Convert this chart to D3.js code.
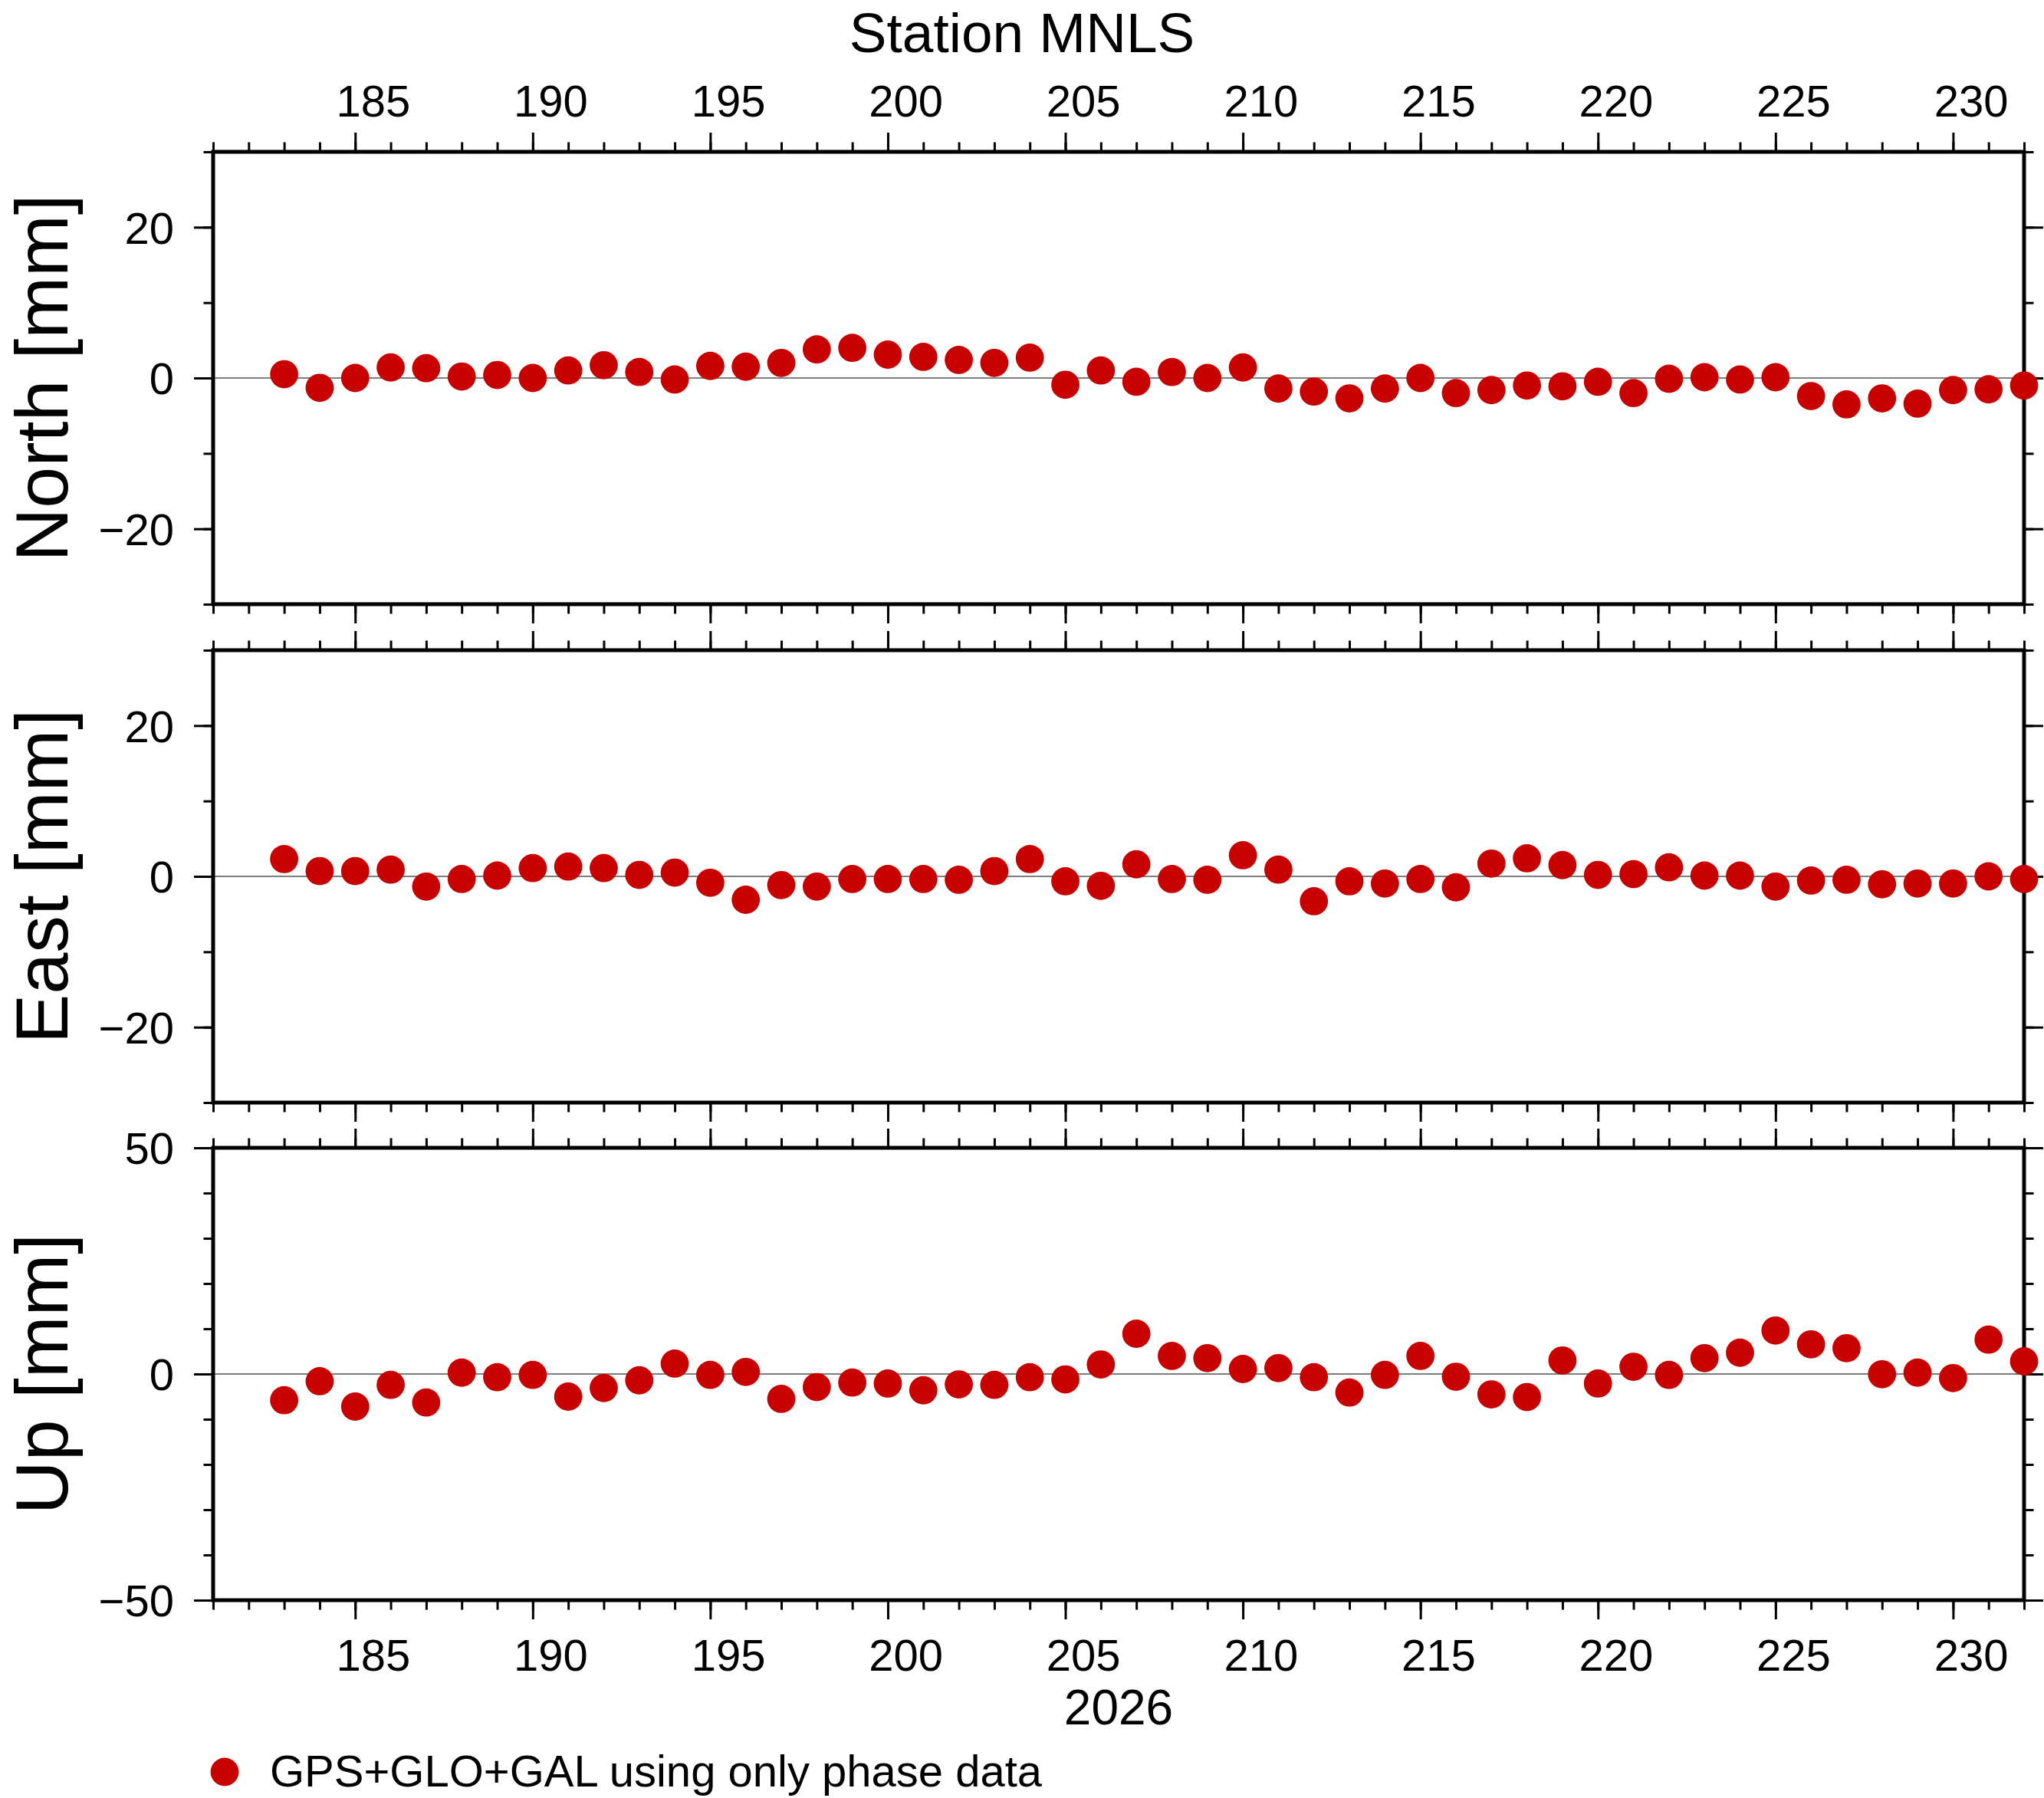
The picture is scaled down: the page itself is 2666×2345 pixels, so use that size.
<!DOCTYPE html>
<html lang="en">
<head>
<meta charset="utf-8">
<title>Station MNLS</title>
<script src="https://d3js.org/d3.v7.min.js"></script>
<style>
body { margin: 0; background: #fff; }
svg { display: block; background: #fff; }
.frame { fill: none; stroke: #000; stroke-width: 5; }
.tick line { stroke: #000; stroke-width: 3; }
.zero { stroke: #000; stroke-width: 1.2; }
.dot { fill: #c80000; }
</style>
</head>
<body>
<div id="chart"></div>
<script>

// day of year 2026
var days = [183, 184, 185, 186, 187, 188, 189, 190, 191, 192,
            193, 194, 195, 196, 197, 198, 199, 200, 201, 202,
            203, 204, 205, 206, 207, 208, 209, 210, 211, 212,
            213, 214, 215, 216, 217, 218, 219, 220, 221, 222,
            223, 224, 225, 226, 227, 228, 229, 230, 231, 232];

// residuals in mm
var north = [0.5, -1.3, 0.0, 1.4, 1.3, 0.2, 0.4, 0.0, 1.0, 1.7,
             0.8, -0.2, 1.6, 1.5, 2.0, 3.8, 4.0, 3.1, 2.8, 2.4,
             2.0, 2.7, -0.9, 1.0, -0.5, 0.8, 0.0, 1.4, -1.4, -1.8,
             -2.7, -1.4, 0.0, -2.0, -1.6, -1.0, -1.1, -0.5, -2.0, -0.1,
             0.1, -0.2, 0.1, -2.4, -3.5, -2.7, -3.4, -1.6, -1.5, -1.0];

var east = [2.3, 0.7, 0.7, 0.9, -1.35, -0.35, 0.1, 1.1, 1.3, 1.1,
            0.2, 0.5, -0.85, -3.1, -1.15, -1.35, -0.35, -0.35, -0.35, -0.45,
            0.7, 2.3, -0.65, -1.25, 1.6, -0.35, -0.45, 2.8, 0.9, -3.3,
            -0.65, -0.95, -0.35, -1.45, 1.7, 2.4, 1.5, 0.2, 0.3, 1.2,
            0.1, 0.1, -1.35, -0.55, -0.45, -1.05, -0.95, -0.95, 0.0, -0.35];

var up = [-5.8, -1.6, -7.2, -2.4, -6.3, 0.3, -0.7, -0.2, -5.0, -3.1,
          -1.4, 2.3, -0.2, 0.45, -5.5, -2.9, -1.9, -2.1, -3.6, -2.3,
          -2.4, -0.7, -1.2, 2.1, 8.9, 4.0, 3.5, 1.1, 1.3, -0.7,
          -4.1, -0.2, 4.0, -0.6, -4.5, -5.1, 3.0, -2.1, 1.6, -0.2,
          3.5, 4.7, 9.6, 6.55, 5.7, -0.05, 0.3, -0.9, 7.6, 2.8];

// tick labels
var xLabels = [185, 190, 195, 200, 205, 210, 215, 220, 225, 230];
var nLabels = [-20, 0, 20];
var eLabels = [-20, 0, 20];
var uLabels = [-50, 0, 50];

var title = "Station MNLS";
var yearLabel = "2026";
var legendText = "GPS+GLO+GAL using only phase data";

var W = 2666, H = 2345;
var font = "'Liberation Sans', Arial, Helvetica, sans-serif";
var left = 278, right = 2640, ph = 590;

var svg = d3.select("#chart").append("svg")
    .attr("width", W)
    .attr("height", H)
    .attr("font-family", font);

var x = d3.scaleLinear().domain([181, 232]).range([left, right]);
var xMinor = d3.range(181, 233);
var halfDay = x(0.5) - x(0);

var panels = [
  {label: "North [mm]", values: north, domain: [-30, 30], labels: nLabels, top: 198},
  {label: "East [mm]",  values: east,  domain: [-30, 30], labels: eLabels, top: 848},
  {label: "Up [mm]",    values: up,    domain: [-50, 50], labels: uLabels, top: 1497}
];

function styleAxis(g) {
  g.select(".domain").remove();
  g.attr("font-family", font).attr("font-size", 58);
  g.selectAll("text").attr("fill", "#000");
}

panels.forEach(function(p, i) {
  var y = d3.scaleLinear().domain(p.domain).range([ph, 0]);
  var yMinor = d3.range(p.domain[0], p.domain[1] + 1, 10);
  var g = svg.append("g").attr("transform", "translate(0," + p.top + ")");

  // zero line
  g.append("line")
    .attr("class", "zero")
    .attr("x1", left).attr("x2", right)
    .attr("y1", y(0)).attr("y2", y(0));

  // x ticks, top and bottom
  g.append("g").call(d3.axisTop(x).tickValues(xMinor).tickSize(12.5).tickFormat("")).call(styleAxis);
  g.append("g").call(d3.axisTop(x).tickValues(xLabels).tickSize(25).tickFormat("")).call(styleAxis);
  g.append("g").attr("transform", "translate(0," + ph + ")")
    .call(d3.axisBottom(x).tickValues(xMinor).tickSize(12.5).tickFormat("")).call(styleAxis);
  g.append("g").attr("transform", "translate(0," + ph + ")")
    .call(d3.axisBottom(x).tickValues(xLabels).tickSize(25).tickFormat("")).call(styleAxis);

  // y ticks, left with labels, right plain
  g.append("g").attr("transform", "translate(" + left + ",0)")
    .call(d3.axisLeft(y).tickValues(yMinor).tickSize(12.5).tickFormat("")).call(styleAxis);
  g.append("g").attr("transform", "translate(" + left + ",0)")
    .call(d3.axisLeft(y).tickValues(p.labels).tickSize(25).tickPadding(26).tickFormat(d3.format("d")))
    .call(styleAxis)
    .selectAll("text").attr("dy", "0.36em");
  g.append("g").attr("transform", "translate(" + right + ",0)")
    .call(d3.axisRight(y).tickValues(yMinor).tickSize(12.5).tickFormat("")).call(styleAxis);
  g.append("g").attr("transform", "translate(" + right + ",0)")
    .call(d3.axisRight(y).tickValues(p.labels).tickSize(25).tickFormat("")).call(styleAxis);

  // day labels above the first panel and below the last, centred on the day
  if (i === 0) {
    g.append("g")
      .call(d3.axisTop(x).tickValues(xLabels).tickSize(0).tickPadding(46).tickFormat(d3.format("d")))
      .call(styleAxis)
      .selectAll("text").attr("dx", halfDay);
  }
  if (i === panels.length - 1) {
    g.append("g").attr("transform", "translate(0," + ph + ")")
      .call(d3.axisBottom(x).tickValues(xLabels).tickSize(0).tickPadding(92).tickFormat(d3.format("d")))
      .call(styleAxis)
      .selectAll("text").attr("dy", "0em").attr("dx", halfDay);
  }

  // frame
  g.append("rect")
    .attr("class", "frame")
    .attr("x", left).attr("y", 0)
    .attr("width", right - left).attr("height", ph);

  // axis title
  g.append("text")
    .attr("transform", "translate(88," + (ph / 2) + ") rotate(-90)")
    .attr("text-anchor", "middle")
    .attr("font-size", 97)
    .text(p.label);

  // points
  g.selectAll("circle.dot")
    .data(days)
    .enter()
    .append("circle")
    .attr("class", "dot")
    .attr("cx", function(d) { return x(d); })
    .attr("cy", function(d, k) { return y(p.values[k]); })
    .attr("r", 18.4);
});

// title
svg.append("text")
  .attr("x", W / 2).attr("y", 68)
  .attr("text-anchor", "middle")
  .attr("font-size", 73)
  .text(title);

// year under the bottom axis
svg.append("text")
  .attr("x", (left + right) / 2).attr("y", 2249)
  .attr("text-anchor", "middle")
  .attr("font-size", 64)
  .text(yearLabel);

// legend
svg.append("circle")
  .attr("class", "dot")
  .attr("cx", 293).attr("cy", 2311)
  .attr("r", 18.4);
svg.append("text")
  .attr("x", 352).attr("y", 2330)
  .attr("font-size", 58)
  .text(legendText);

</script>
</body>
</html>
